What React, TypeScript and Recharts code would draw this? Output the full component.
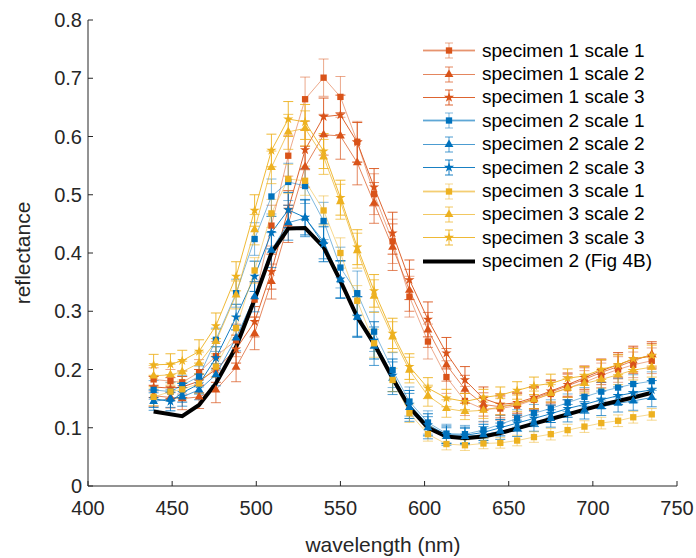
import { LineChart, Line, XAxis, YAxis, ErrorBar, Symbols } from "recharts";

const wavelengths = [439, 449, 456, 466, 476, 488, 499, 509, 519, 529, 540, 550, 560, 570, 581, 591, 602, 613, 624, 635, 645, 655, 665, 675, 685, 695, 705, 715, 724, 735];

const s1Scale1 = [0.183, 0.180, 0.178, 0.195, 0.223, 0.250, 0.320, 0.447, 0.567, 0.664, 0.701, 0.668, 0.591, 0.501, 0.420, 0.325, 0.248, 0.187, 0.146, 0.132, 0.133, 0.138, 0.148, 0.158, 0.168, 0.178, 0.190, 0.200, 0.208, 0.215];
const s1Scale2 = [0.155, 0.152, 0.150, 0.153, 0.165, 0.204, 0.262, 0.351, 0.450, 0.548, 0.603, 0.601, 0.555, 0.486, 0.410, 0.336, 0.268, 0.208, 0.166, 0.140, 0.136, 0.140, 0.150, 0.161, 0.172, 0.183, 0.195, 0.205, 0.215, 0.226];
const s1Scale3 = [0.170, 0.168, 0.170, 0.180, 0.200, 0.235, 0.282, 0.368, 0.475, 0.577, 0.634, 0.637, 0.590, 0.513, 0.434, 0.354, 0.286, 0.228, 0.182, 0.150, 0.140, 0.143, 0.152, 0.163, 0.174, 0.186, 0.198, 0.208, 0.218, 0.223];
const s2Scale1 = [0.165, 0.162, 0.173, 0.188, 0.251, 0.331, 0.424, 0.497, 0.522, 0.515, 0.455, 0.375, 0.331, 0.265, 0.199, 0.145, 0.109, 0.090, 0.089, 0.096, 0.106, 0.116, 0.125, 0.133, 0.143, 0.153, 0.162, 0.169, 0.175, 0.180];
const s2Scale2 = [0.145, 0.150, 0.153, 0.165, 0.191, 0.254, 0.325, 0.405, 0.452, 0.460, 0.420, 0.354, 0.290, 0.240, 0.185, 0.135, 0.100, 0.085, 0.085, 0.088, 0.094, 0.099, 0.108, 0.116, 0.125, 0.130, 0.136, 0.142, 0.146, 0.152];
const s2Scale3 = [0.150, 0.145, 0.160, 0.175, 0.220, 0.290, 0.360, 0.435, 0.474, 0.461, 0.415, 0.355, 0.291, 0.250, 0.190, 0.140, 0.105, 0.088, 0.087, 0.092, 0.100, 0.108, 0.116, 0.124, 0.133, 0.140, 0.148, 0.155, 0.160, 0.165];
const s3Scale1 = [0.153, 0.162, 0.166, 0.176, 0.205, 0.271, 0.370, 0.468, 0.527, 0.524, 0.473, 0.400, 0.318, 0.245, 0.182, 0.125, 0.089, 0.072, 0.070, 0.073, 0.074, 0.078, 0.084, 0.089, 0.096, 0.102, 0.108, 0.112, 0.118, 0.123];
const s3Scale2 = [0.189, 0.191, 0.196, 0.211, 0.248, 0.328, 0.440, 0.547, 0.608, 0.614, 0.565, 0.488, 0.404, 0.326, 0.256, 0.199, 0.155, 0.133, 0.128, 0.130, 0.136, 0.142, 0.148, 0.159, 0.168, 0.176, 0.183, 0.191, 0.199, 0.204];
const s3Scale3 = [0.208, 0.209, 0.215, 0.231, 0.275, 0.360, 0.473, 0.576, 0.630, 0.625, 0.575, 0.495, 0.410, 0.335, 0.262, 0.205, 0.168, 0.151, 0.145, 0.152, 0.156, 0.164, 0.172, 0.176, 0.185, 0.189, 0.200, 0.208, 0.218, 0.224];

// error bar half-lengths
const s1Scale1Err = [0.020, 0.020, 0.020, 0.022, 0.025, 0.028, 0.030, 0.035, 0.035, 0.038, 0.032, 0.035, 0.035, 0.035, 0.038, 0.035, 0.030, 0.028, 0.025, 0.022, 0.020, 0.020, 0.020, 0.020, 0.020, 0.020, 0.021, 0.022, 0.022, 0.022];
const s1Scale2Err = [0.018, 0.018, 0.019, 0.020, 0.022, 0.025, 0.028, 0.030, 0.032, 0.035, 0.035, 0.040, 0.038, 0.035, 0.040, 0.036, 0.030, 0.028, 0.024, 0.020, 0.019, 0.019, 0.019, 0.020, 0.020, 0.020, 0.021, 0.021, 0.022, 0.022];
const s1Scale3Err = [0.018, 0.018, 0.018, 0.020, 0.022, 0.024, 0.026, 0.030, 0.032, 0.034, 0.032, 0.034, 0.034, 0.032, 0.036, 0.034, 0.030, 0.027, 0.023, 0.020, 0.018, 0.018, 0.019, 0.019, 0.020, 0.020, 0.020, 0.021, 0.022, 0.022];
const s2Scale1Err = [0.016, 0.016, 0.017, 0.018, 0.020, 0.024, 0.028, 0.030, 0.032, 0.030, 0.032, 0.035, 0.038, 0.034, 0.030, 0.025, 0.020, 0.016, 0.015, 0.015, 0.015, 0.015, 0.015, 0.015, 0.015, 0.016, 0.016, 0.016, 0.016, 0.016];
const s2Scale2Err = [0.015, 0.015, 0.016, 0.017, 0.019, 0.022, 0.026, 0.030, 0.030, 0.032, 0.030, 0.032, 0.035, 0.033, 0.028, 0.024, 0.019, 0.015, 0.014, 0.014, 0.014, 0.014, 0.014, 0.015, 0.015, 0.015, 0.015, 0.015, 0.016, 0.016];
const s2Scale3Err = [0.015, 0.016, 0.016, 0.017, 0.019, 0.022, 0.026, 0.028, 0.030, 0.030, 0.030, 0.032, 0.034, 0.032, 0.028, 0.024, 0.019, 0.015, 0.014, 0.014, 0.014, 0.014, 0.014, 0.015, 0.015, 0.015, 0.015, 0.015, 0.016, 0.016];
const s3Scale1Err = [0.015, 0.015, 0.016, 0.017, 0.018, 0.020, 0.022, 0.024, 0.025, 0.025, 0.025, 0.026, 0.026, 0.024, 0.020, 0.016, 0.012, 0.010, 0.009, 0.009, 0.009, 0.009, 0.009, 0.010, 0.010, 0.010, 0.010, 0.010, 0.010, 0.010];
const s3Scale2Err = [0.018, 0.018, 0.018, 0.019, 0.021, 0.024, 0.026, 0.028, 0.030, 0.030, 0.030, 0.030, 0.030, 0.028, 0.026, 0.022, 0.018, 0.015, 0.014, 0.014, 0.014, 0.014, 0.015, 0.015, 0.016, 0.016, 0.016, 0.017, 0.017, 0.017];
const s3Scale3Err = [0.018, 0.018, 0.018, 0.020, 0.022, 0.025, 0.027, 0.028, 0.030, 0.030, 0.030, 0.030, 0.030, 0.028, 0.026, 0.022, 0.018, 0.015, 0.014, 0.014, 0.014, 0.015, 0.015, 0.016, 0.016, 0.016, 0.017, 0.017, 0.018, 0.018];

const fig4bWavelengths = [439, 456, 466, 476, 488, 499, 509, 519, 529, 540, 550, 560, 570, 581, 591, 602, 613, 624, 635, 645, 655, 665, 675, 685, 695, 705, 715, 724, 735];
const fig4b = [0.128, 0.120, 0.139, 0.176, 0.239, 0.320, 0.400, 0.442, 0.443, 0.410, 0.352, 0.290, 0.244, 0.185, 0.135, 0.100, 0.085, 0.082, 0.085, 0.091, 0.099, 0.107, 0.115, 0.123, 0.131, 0.139, 0.146, 0.152, 0.160];

const xTicks = [400, 450, 500, 550, 600, 650, 700, 750];
const yTicks = [0, 0.1, 0.2, 0.3, 0.4, 0.5, 0.6, 0.7, 0.8];

const ORANGE = "#D95319";
const BLUE = "#0072BD";
const YELLOW = "#EDB120";

const SERIES = [
  { name: "specimen 1 scale 1", values: s1Scale1, err: s1Scale1Err, color: ORANGE, shape: "square", alpha: 0.5 },
  { name: "specimen 1 scale 2", values: s1Scale2, err: s1Scale2Err, color: ORANGE, shape: "triangle", alpha: 0.7 },
  { name: "specimen 1 scale 3", values: s1Scale3, err: s1Scale3Err, color: ORANGE, shape: "star", alpha: 0.9 },
  { name: "specimen 2 scale 1", values: s2Scale1, err: s2Scale1Err, color: BLUE, shape: "square", alpha: 0.5 },
  { name: "specimen 2 scale 2", values: s2Scale2, err: s2Scale2Err, color: BLUE, shape: "triangle", alpha: 0.7 },
  { name: "specimen 2 scale 3", values: s2Scale3, err: s2Scale3Err, color: BLUE, shape: "star", alpha: 0.9 },
  { name: "specimen 3 scale 1", values: s3Scale1, err: s3Scale1Err, color: YELLOW, shape: "square", alpha: 0.5 },
  { name: "specimen 3 scale 2", values: s3Scale2, err: s3Scale2Err, color: YELLOW, shape: "triangle", alpha: 0.7 },
  { name: "specimen 3 scale 3", values: s3Scale3, err: s3Scale3Err, color: YELLOW, shape: "star", alpha: 0.9 },
];

const SIZES: Record<string, number> = { square: 40, triangle: 34, star: 32 };

const seriesData = SERIES.map((s) => wavelengths.map((w, i) => ({ w, y: s.values[i], e: s.err[i] })));
const fig4bData = fig4bWavelengths.map((w, i) => ({ w, y: fig4b[i] }));

const FONT = "'Liberation Sans', Arial, Helvetica, sans-serif";
const AXIS = "#262626";

function makeDot(shape: string, color: string) {
  return (p: any) => (
    <Symbols key={p.index} cx={p.cx} cy={p.cy} type={shape as any} size={SIZES[shape]} fill={color} stroke="none" />
  );
}

function LegendBox() {
  return (
    <div style={{ position: "absolute", left: 422, top: 39, fontFamily: FONT, fontSize: 19, color: "#000" }}>
      {SERIES.map((s) => (
        <div key={s.name} style={{ display: "flex", alignItems: "center", height: 23.4 }}>
          <svg width={60} height={23} style={{ display: "block" }}>
            {s.alpha < 0.6 && <line x1={1} x2={53} y1={11.5} y2={11.5} stroke={s.color} strokeOpacity={0.25} strokeWidth={3} />}
            <line x1={1} x2={53} y1={11.5} y2={11.5} stroke={s.color} strokeOpacity={s.alpha} strokeWidth={1} />
            <line x1={27} x2={27} y1={4} y2={19} stroke={s.color} strokeOpacity={s.alpha} />
            <line x1={23} x2={31} y1={4} y2={4} stroke={s.color} strokeOpacity={s.alpha} />
            <line x1={23} x2={31} y1={19} y2={19} stroke={s.color} strokeOpacity={s.alpha} />
            <Symbols cx={27} cy={11.5} type={s.shape as any} size={SIZES[s.shape]} fill={s.color} />
          </svg>
          <span style={{ whiteSpace: "nowrap" }}>{s.name}</span>
        </div>
      ))}
      <div style={{ display: "flex", alignItems: "center", height: 23.4 }}>
        <svg width={60} height={23} style={{ display: "block" }}>
          <line x1={1} x2={53} y1={11.5} y2={11.5} stroke="#000" strokeWidth={4} />
        </svg>
        <span style={{ whiteSpace: "nowrap" }}>specimen 2 (Fig 4B)</span>
      </div>
    </div>
  );
}

export default function App() {
  const tickStyle = { fontSize: 20, fill: AXIS, fontFamily: FONT };
  return (
    <div style={{ position: "absolute", left: 0, top: 0, width: 696, height: 558, background: "#fff" }}>
      <LineChart width={696} height={558} margin={{ top: 20, right: 19, bottom: 0, left: 8 }}>
        <XAxis
          dataKey="w"
          type="number"
          domain={[400, 750]}
          ticks={xTicks}
          allowDataOverflow
          height={72}
          stroke={AXIS}
          tick={tickStyle}
          tickSize={-5}
          tickMargin={20}
          label={{
            content: () => (
              <text x={383} y={552} textAnchor="middle" fontSize={21} fill={AXIS} fontFamily={FONT}>
                wavelength (nm)
              </text>
            ),
          }}
        />
        <YAxis
          type="number"
          domain={[0, 0.8]}
          ticks={yTicks}
          allowDataOverflow
          width={80}
          stroke={AXIS}
          tick={tickStyle}
          tickSize={-5}
          tickMargin={11}
          label={{
            content: () => (
              <text
                x={30}
                y={253}
                transform="rotate(-90 30 253)"
                textAnchor="middle"
                fontSize={21}
                fill={AXIS}
                fontFamily={FONT}
              >
                reflectance
              </text>
            ),
          }}
        />
        {SERIES.map((s, i) => (
          <Line
            key={s.name}
            data={seriesData[i]}
            dataKey="y"
            name={s.name}
            type="linear"
            stroke={s.color}
            strokeOpacity={s.alpha}
            strokeWidth={1}
            dot={makeDot(s.shape, s.color)}
            activeDot={false}
            isAnimationActive={false}
          >
            <ErrorBar dataKey="e" direction="y" width={5} stroke={s.color} strokeOpacity={s.alpha} strokeWidth={1} />
          </Line>
        ))}
        <Line
          data={fig4bData}
          dataKey="y"
          name="specimen 2 (Fig 4B)"
          type="linear"
          stroke="#000"
          strokeWidth={4}
          dot={false}
          activeDot={false}
          isAnimationActive={false}
        />
      </LineChart>
      <LegendBox />
    </div>
  );
}
